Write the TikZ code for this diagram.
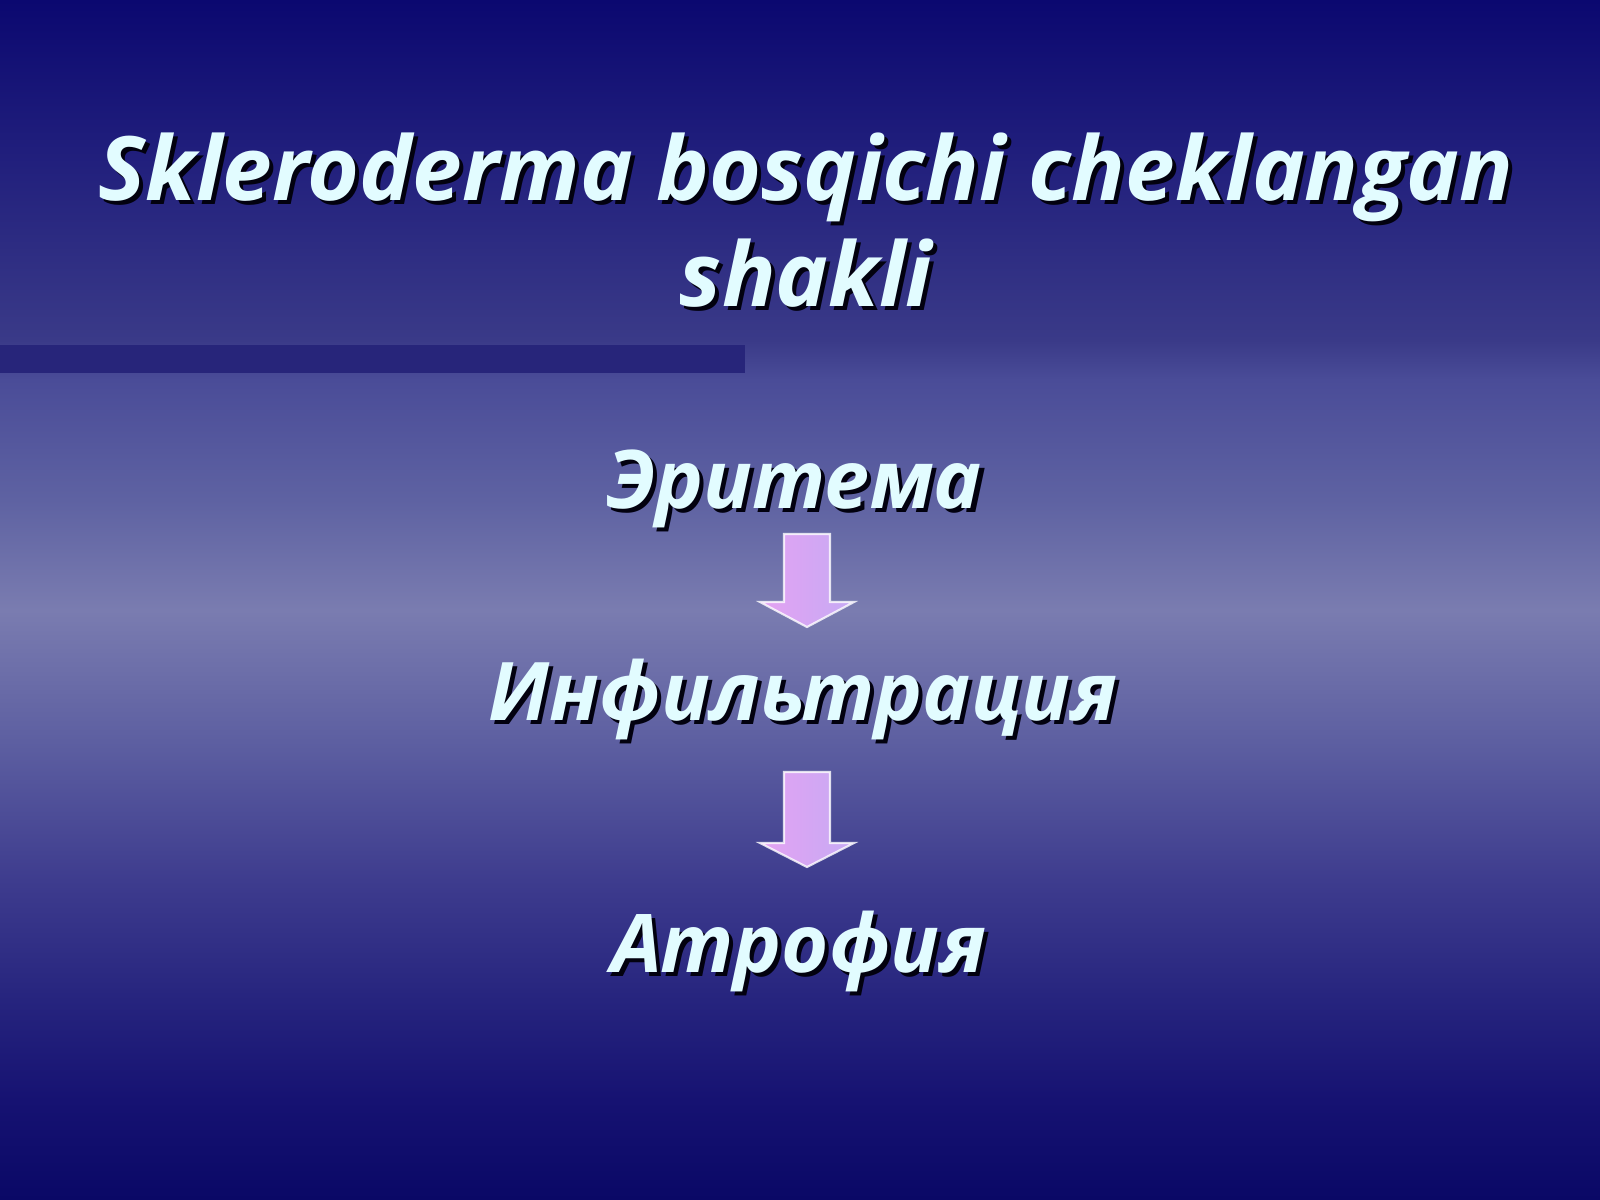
\documentclass[tikz,border=0pt]{standalone}
\usepackage{fontspec}
\setmainfont{Open Sans}
\usetikzlibrary{calc}
\definecolor{txtc}{HTML}{E2FCFF}
\definecolor{barc}{HTML}{27257A}
\definecolor{arrL}{HTML}{E4A2F2}
\definecolor{arrR}{HTML}{C6AAF4}
\definecolor{bgA}{HTML}{0A0866}
\definecolor{bgB}{HTML}{161272}
\definecolor{bgC}{HTML}{26247E}
\definecolor{bgD}{HTML}{3E3C8E}
\definecolor{bgE}{HTML}{5B5DA0}
\definecolor{bgF}{HTML}{7A7CB0}
\definecolor{bgG}{HTML}{5E62A2}
\definecolor{bgH}{HTML}{4A4C98}
\definecolor{bgI}{HTML}{3A3A88}
\definecolor{bgJ}{HTML}{201E7C}
\definecolor{bgK}{HTML}{0B0870}
% the path is mapped onto the central part (25bp..75bp) of the shading
\pgfdeclareverticalshading{bgshade}{100bp}{%
  color(0bp)=(bgA); color(25bp)=(bgA); color(29.17bp)=(bgB); color(33.33bp)=(bgC); color(38.33bp)=(bgD);
  color(43.75bp)=(bgE); color(49.58bp)=(bgF); color(54.17bp)=(bgG); color(59.17bp)=(bgH);
  color(60.83bp)=(bgI); color(68.75bp)=(bgJ); color(75bp)=(bgK); color(100bp)=(bgK)}
\tikzset{
  titletext/.style={font=\fontsize{25.3}{30}\selectfont\bfseries\itshape, text=txtc, anchor=base, inner sep=0pt},
  stagetext/.style={font=\fontsize{23}{28}\selectfont\bfseries\itshape, text=txtc, anchor=base, inner sep=0pt},
  shadowed/.style={text=black!85!bgA},
  blockarrow/.style={left color=arrL, right color=arrR, draw=white, draw opacity=0.8, line width=0.6pt}
}
\newcommand{\shtext}[4]{% style, name, position, text
  \node[#1,shadowed] at ($#3+(4,4)$) {#4};
  \node[#1] (#2) at #3 {#4};
}
\begin{document}
\begin{tikzpicture}[x=0.01cm,y=-0.01cm]
\useasboundingbox (0,0) rectangle (1600,1200);
\shade[shading=bgshade] (0,0) rectangle (1600,1200);
\fill[barc] (0,345) rectangle (745,373);
\shtext{titletext}{t1}{(806,200)}{Skleroderma bosqichi cheklangan}
\shtext{titletext}{t2}{(806,306)}{shakli}
\shtext{stagetext}{e1}{(794,508)}{Эритема}
\shtext{stagetext}{e2}{(803,720)}{Инфильтрация}
\shtext{stagetext}{e3}{(799,972)}{Атрофия}
\draw[blockarrow] (784,534) -- (830,534) -- (830,602) -- (854,602) -- (807,627) -- (760,602) -- (784,602) -- cycle;
\draw[blockarrow] (784,772) -- (830,772) -- (830,843) -- (854,843) -- (807,867) -- (760,843) -- (784,843) -- cycle;
\end{tikzpicture}
\end{document}
